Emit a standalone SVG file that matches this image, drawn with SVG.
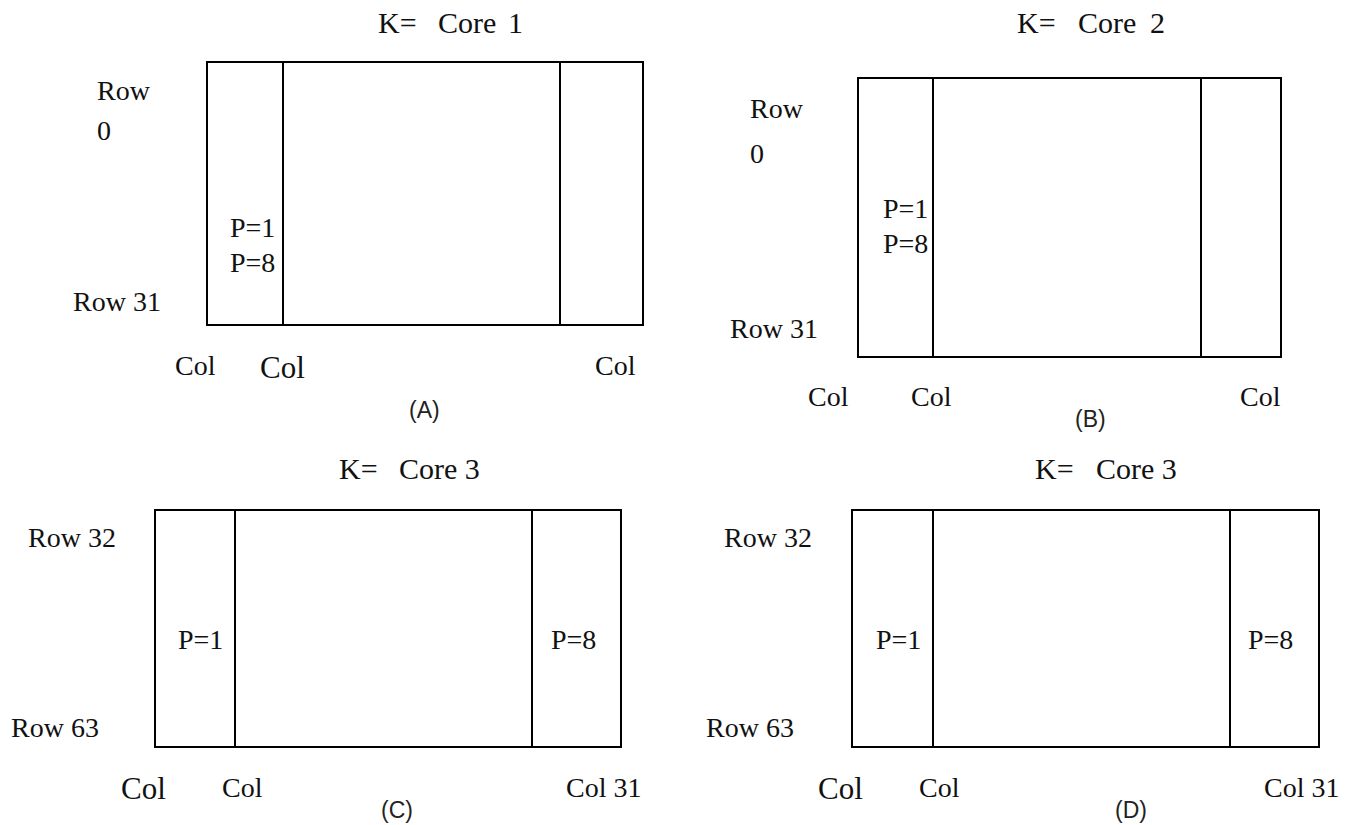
<svg xmlns="http://www.w3.org/2000/svg" width="1353" height="825" viewBox="0 0 1353 825">
  <style>
    .frame { fill: none; stroke: #000; stroke-width: 2; }
    .div { stroke: #000; stroke-width: 2; }
    .t { font-family: "Liberation Serif", "Times New Roman", serif; font-size: 28px; fill: #111; }
    .title { font-family: "Liberation Serif", "Times New Roman", serif; font-size: 30px; fill: #111; }
    .big { font-size: 31px; }
    .cap { font-family: "Liberation Sans", Arial, sans-serif; font-size: 23px; fill: #222; }
  </style>
  <rect width="1353" height="825" fill="#fff"/>

  <!-- Panel A: core 1 -->
  <g id="panel-a">
    <rect class="frame" x="207" y="62" width="436" height="263"/>
    <line class="div" x1="283" y1="62" x2="283" y2="325"/>
    <line class="div" x1="560" y1="62" x2="560" y2="325"/>
    <text class="title" x="378" y="33">K=</text>
    <text class="title" x="438" y="33">Core</text>
    <text class="title" x="508" y="33">1</text>
    <text class="t" x="97" y="100">Row</text>
    <text class="t" x="97" y="140">0</text>
    <text class="t" x="230" y="237">P=1</text>
    <text class="t" x="230" y="272">P=8</text>
    <text class="t" x="73" y="311">Row 31</text>
    <text class="t" x="175" y="375">Col</text>
    <text class="t big" x="260" y="378">Col</text>
    <text class="t" x="595" y="375">Col</text>
    <text class="cap" x="409" y="418">(A)</text>
  </g>

  <!-- Panel B: core 2 -->
  <g id="panel-b">
    <rect class="frame" x="858" y="78" width="423" height="279"/>
    <line class="div" x1="933" y1="78" x2="933" y2="357"/>
    <line class="div" x1="1201" y1="78" x2="1201" y2="357"/>
    <text class="title" x="1017" y="33">K=</text>
    <text class="title" x="1078" y="33">Core</text>
    <text class="title" x="1150" y="33">2</text>
    <text class="t" x="750" y="118">Row</text>
    <text class="t" x="750" y="163">0</text>
    <text class="t" x="883" y="218">P=1</text>
    <text class="t" x="883" y="253">P=8</text>
    <text class="t" x="730" y="338">Row 31</text>
    <text class="t" x="808" y="406">Col</text>
    <text class="t" x="911" y="406">Col</text>
    <text class="t" x="1240" y="406">Col</text>
    <text class="cap" x="1075" y="427">(B)</text>
  </g>

  <!-- Panel C: core 3 -->
  <g id="panel-c">
    <rect class="frame" x="155" y="510" width="466" height="237"/>
    <line class="div" x1="235" y1="510" x2="235" y2="747"/>
    <line class="div" x1="532" y1="510" x2="532" y2="747"/>
    <text class="title" x="339" y="479">K=</text>
    <text class="title" x="399" y="479">Core 3</text>
    <text class="t" x="28" y="547">Row 32</text>
    <text class="t" x="178" y="649">P=1</text>
    <text class="t" x="551" y="649">P=8</text>
    <text class="t" x="11" y="737">Row 63</text>
    <text class="t big" x="121" y="799">Col</text>
    <text class="t" x="222" y="797">Col</text>
    <text class="t" x="566" y="797">Col 31</text>
    <text class="cap" x="381" y="818">(C)</text>
  </g>

  <!-- Panel D: core 3 -->
  <g id="panel-d">
    <rect class="frame" x="852" y="510" width="467" height="237"/>
    <line class="div" x1="933" y1="510" x2="933" y2="747"/>
    <line class="div" x1="1230" y1="510" x2="1230" y2="747"/>
    <text class="title" x="1035" y="479">K=</text>
    <text class="title" x="1096" y="479">Core 3</text>
    <text class="t" x="724" y="547">Row 32</text>
    <text class="t" x="876" y="649">P=1</text>
    <text class="t" x="1248" y="649">P=8</text>
    <text class="t" x="706" y="737">Row 63</text>
    <text class="t big" x="818" y="799">Col</text>
    <text class="t" x="919" y="797">Col</text>
    <text class="t" x="1264" y="797">Col 31</text>
    <text class="cap" x="1115" y="818">(D)</text>
  </g>

  <!-- no connectors in this figure -->
  <g id="connectors"/>
</svg>
